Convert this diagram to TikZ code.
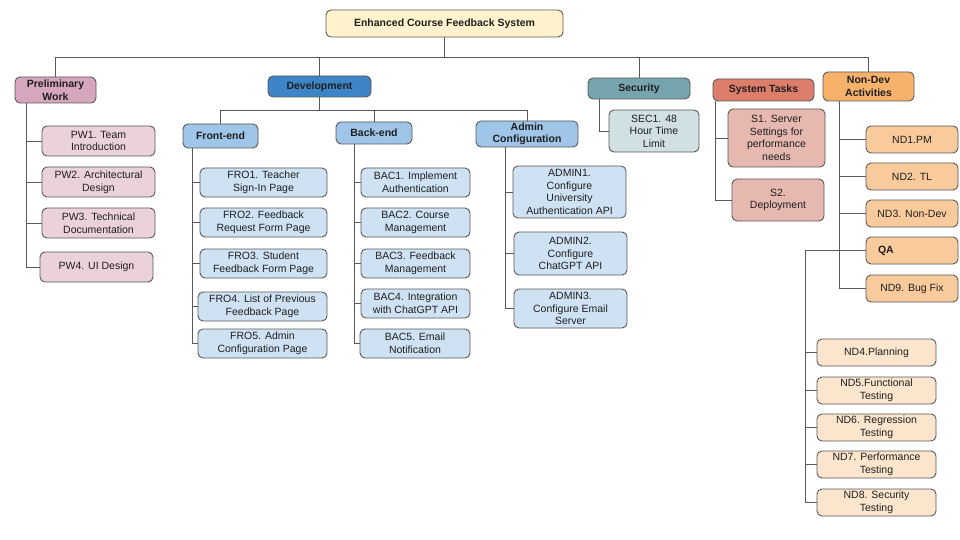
\documentclass[tikz,border=0pt]{standalone}
\usepackage{fontspec}
\setmainfont{Liberation Sans}
\begin{document}
\begin{tikzpicture}[x=1pt,y=-1pt,
  box/.style={draw=edgec,line width=0.9pt,rounded corners=5pt,align=center,inner sep=0pt,
    font=\fontsize{10.5}{12.6}\selectfont,text=txtc},
  hdr/.style={box,font=\fontsize{10.5}{12.6}\selectfont\bfseries},
  conn/.style={draw=edgec,line width=0.9pt}]
\definecolor{edgec}{HTML}{595959}
\definecolor{txtc}{HTML}{1F1F1F}
\definecolor{rootc}{HTML}{FFF2CC}
\definecolor{prec}{HTML}{D5A6BD}
\definecolor{prel}{HTML}{EAD1DC}
\definecolor{devc}{HTML}{3D85C6}
\definecolor{devm}{HTML}{9FC5E8}
\definecolor{devl}{HTML}{CFE2F3}
\definecolor{secc}{HTML}{76A5AF}
\definecolor{secl}{HTML}{D0E0E3}
\definecolor{sysc}{HTML}{DD7E6B}
\definecolor{sysl}{HTML}{E6B8AF}
\definecolor{ndc}{HTML}{F6B26B}
\definecolor{ndm}{HTML}{F9CB9C}
\definecolor{ndl}{HTML}{FCE5CD}
\useasboundingbox[fill=white] (0,0) rectangle (960,540);

% top level
\node[hdr,fill=rootc,minimum width=237,minimum height=27] (root) at (444.5,23.5) {Enhanced Course Feedback System};
\node[hdr,fill=prec,minimum width=81,minimum height=26] (prelim) at (55.5,90) {Preliminary\\Work};
\node[hdr,fill=devc,minimum width=103,minimum height=21] (dev) at (319.5,86.5) {Development};
\node[hdr,fill=secc,minimum width=102,minimum height=21] (sec) at (639,88.5) {Security};
\node[hdr,fill=sysc,minimum width=101,minimum height=22] (sys) at (763.5,90) {System Tasks};
\node[hdr,fill=ndc,minimum width=91,minimum height=29] (nondev) at (868.5,86.5) {Non-Dev\\Activities};

% development level
\node[hdr,fill=devm,minimum width=75,minimum height=24] (fe) at (220.5,136) {Front-end};
\node[hdr,fill=devm,minimum width=76,minimum height=22] (be) at (374,133) {Back-end};
\node[hdr,fill=devm,minimum width=102,minimum height=26] (adm) at (527,134) {Admin\\Configuration};

% preliminary children
\node[box,fill=prel,minimum width=113,minimum height=30] (pw1) at (98.5,141) {PW1. Team\\Introduction};
\node[box,fill=prel,minimum width=113,minimum height=30] (pw2) at (98.5,182) {PW2. Architectural\\Design};
\node[box,fill=prel,minimum width=113,minimum height=30] (pw3) at (98.5,223) {PW3. Technical\\Documentation};
\node[box,fill=prel,minimum width=113,minimum height=30] (pw4) at (96.5,267) {PW4. UI Design};

% front-end children
\node[box,fill=devl,minimum width=127,minimum height=29] (fro1) at (263.5,182.5) {FRO1. Teacher\\Sign-In Page};
\node[box,fill=devl,minimum width=127,minimum height=29] (fro2) at (263.5,222.5) {FRO2. Feedback\\Request Form Page};
\node[box,fill=devl,minimum width=127,minimum height=29] (fro3) at (263.5,263.5) {FRO3. Student\\Feedback Form Page};
\node[box,fill=devl,minimum width=129,minimum height=29] (fro4) at (262.5,306.5) {FRO4. List of Previous\\Feedback Page};
\node[box,fill=devl,minimum width=129,minimum height=29] (fro5) at (262.5,343.5) {FRO5. Admin\\Configuration Page};

% back-end children
\node[box,fill=devl,minimum width=109,minimum height=29] (bac1) at (415.5,182.5) {BAC1. Implement\\Authentication};
\node[box,fill=devl,minimum width=109,minimum height=29] (bac2) at (415.5,222.5) {BAC2. Course\\Management};
\node[box,fill=devl,minimum width=109,minimum height=29] (bac3) at (415.5,263.5) {BAC3. Feedback\\Management};
\node[box,fill=devl,minimum width=109,minimum height=29] (bac4) at (415.5,303.5) {BAC4. Integration\\with ChatGPT API};
\node[box,fill=devl,minimum width=110,minimum height=29] (bac5) at (415,343.5) {BAC5. Email\\Notification};

% admin children
\node[box,fill=devl,minimum width=113,minimum height=52] (adm1) at (569.5,192) {ADMIN1.\\Configure\\University\\Authentication API};
\node[box,fill=devl,minimum width=113,minimum height=43] (adm2) at (570.5,253.5) {ADMIN2.\\Configure\\ChatGPT API};
\node[box,fill=devl,minimum width=113,minimum height=39] (adm3) at (570.5,308.5) {ADMIN3.\\Configure Email\\Server};

% security child
\node[box,fill=secl,minimum width=90,minimum height=42] (sec1) at (654,131) {SEC1. 48\\Hour Time\\Limit};

% system children
\node[box,fill=sysl,minimum width=97,minimum height=58] (s1) at (776.5,138) {S1. Server\\Settings for\\performance\\needs};
\node[box,fill=sysl,minimum width=92,minimum height=42] (s2) at (778,200) {S2.\\Deployment};

% non-dev children
\node[box,fill=ndm,minimum width=92,minimum height=27] (nd1) at (912,139.5) {ND1.PM};
\node[box,fill=ndm,minimum width=92,minimum height=27] (nd2) at (912,176.5) {ND2. TL};
\node[box,fill=ndm,minimum width=92,minimum height=27] (nd3) at (912,213.5) {ND3. Non-Dev};
\node[box,fill=ndm,minimum height=27,text width=68,inner xsep=12pt,align=left,font=\fontsize{10.5}{12.6}\selectfont\bfseries] (qa) at (912,250.5) {QA};
\node[box,fill=ndm,minimum width=92,minimum height=27] (nd9) at (912,288.5) {ND9. Bug Fix};

% QA children
\node[box,fill=ndl,minimum width=119,minimum height=27] (nd4) at (876.5,352.5) {ND4.Planning};
\node[box,fill=ndl,minimum width=119,minimum height=27] (nd5) at (876.5,390.5) {ND5.Functional\\Testing};
\node[box,fill=ndl,minimum width=119,minimum height=27] (nd6) at (876.5,427.5) {ND6. Regression\\Testing};
\node[box,fill=ndl,minimum width=119,minimum height=27] (nd7) at (876.5,464.5) {ND7. Performance\\Testing};
\node[box,fill=ndl,minimum width=119,minimum height=27] (nd8) at (876.5,502.5) {ND8. Security\\Testing};

% buses
\coordinate (bus) at (0,57);
\coordinate (devbus) at (0,110);
\coordinate (qak) at (805,250.5);

\begin{scope}[on background layer/.style={}]
\draw[conn] (root.south) -- (root.south |- bus);
\draw[conn] (prelim.north) -- (prelim.north |- bus) -| (nondev.north);
\draw[conn] (dev.north) -- (dev.north |- bus);
\draw[conn] (sec.north) -- (sec.north |- bus);

\draw[conn] (dev.south) -- (dev.south |- devbus);
\draw[conn] (fe.north) -- (fe.north |- devbus) -| (adm.north);
\draw[conn] (be.north) -- (be.north |- devbus);

\foreach \c in {pw1,pw2,pw3,pw4} \draw[conn] ([xshift=12pt]prelim.south west) |- (\c.west);
\foreach \c in {fro1,fro2,fro3,fro4,fro5} \draw[conn] ([xshift=10pt]fe.south west) |- (\c.west);
\foreach \c in {bac1,bac2,bac3,bac4,bac5} \draw[conn] ([xshift=19pt]be.south west) |- (\c.west);
\foreach \c in {adm1,adm2,adm3} \draw[conn] ([xshift=30pt]adm.south west) |- (\c.west);
\draw[conn] ([xshift=12pt]sec.south west) |- (sec1.west);
\foreach \c in {s1,s2} \draw[conn] ([xshift=3pt]sys.south west) |- (\c.west);
\foreach \c in {nd1,nd2,nd3,qa,nd9} \draw[conn] ([xshift=17pt]nondev.south west) |- (\c.west);
\draw[conn] (qa.west) -- (qak);
\foreach \c in {nd4,nd5,nd6,nd7,nd8} \draw[conn] (qak) |- (\c.west);
\end{scope}
\end{tikzpicture}
\end{document}
